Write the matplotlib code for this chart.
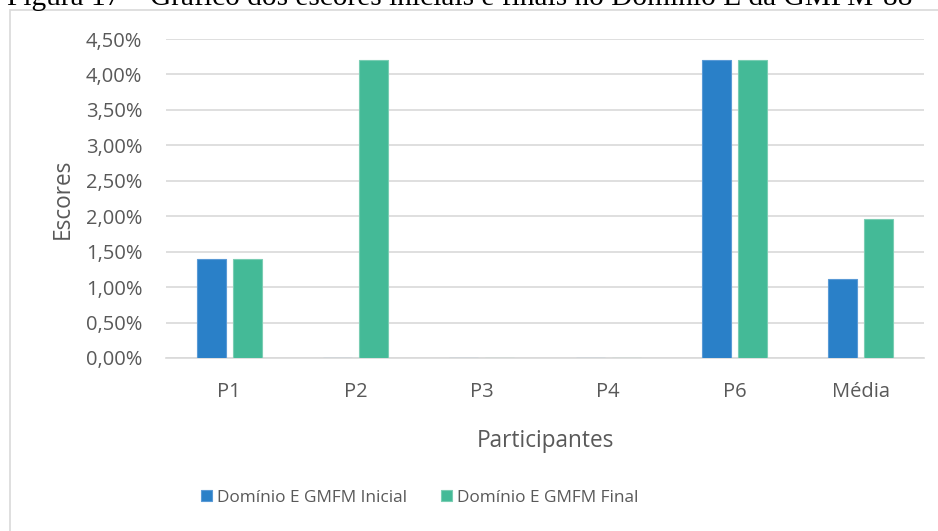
import matplotlib
matplotlib.use("Agg")
import matplotlib.pyplot as plt
from matplotlib.patches import Rectangle
from matplotlib.ticker import FuncFormatter, MultipleLocator
import numpy as np

categories = ["P1", "P2", "P3", "P4", "P6", "Média"]
inicial = [1.40, 0.0, 0.0, 0.0, 4.20, 1.12]
final = [1.40, 4.20, 0.0, 0.0, 4.20, 1.96]
series_labels = ["Domínio E GMFM Inicial", "Domínio E GMFM Final"]
title = "Figura 17 – Gráfico dos escores iniciais e finais no Domínio E da GMFM-88"

blue = "#2A80C8"
green = "#44BA97"
text_gray = "#595959"
grid_gray = "#D9D9D9"

plt.rcParams["font.family"] = ["Open Sans", "DejaVu Sans"]

fig = plt.figure(figsize=(9.38, 5.31), dpi=100)
fig.patch.set_facecolor("white")

# chart frame (extends past the right and bottom edges)
fig.patches.append(Rectangle((10 / 938, -0.05), 1.0, 1 - 10 / 531 + 0.05,
                             transform=fig.transFigure, fill=False,
                             edgecolor=grid_gray, linewidth=1.2, zorder=0))

# caption above the chart frame
fig.text(7 / 938, 1 - 5 / 531, title, family="Liberation Serif", fontsize=21.2,
         color="black", ha="left", va="baseline")

ax = fig.add_axes([166 / 938, 1 - 358 / 531, (924 - 166) / 938, (358 - 39) / 531])
x = np.arange(len(categories))
w = 0.23
off = 0.143
ax.bar(x - off, inicial, w, color=blue, edgecolor="#5A9AD6", linewidth=0.8,
       label=series_labels[0], zorder=3)
ax.bar(x + off, final, w, color=green, edgecolor="#7ACDB3", linewidth=0.8,
       label=series_labels[1], zorder=3)

ax.set_xlim(-0.5, len(categories) - 0.5)
ax.set_ylim(0, 4.5)
ax.yaxis.set_major_locator(MultipleLocator(0.5))
ax.yaxis.set_major_formatter(FuncFormatter(lambda v, p: f"{v:.2f}%".replace(".", ",")))
ax.set_xticks(x)
ax.set_xticklabels(categories)
ax.tick_params(axis="both", length=0, labelsize=14.5, colors=text_gray)
ax.tick_params(axis="y", pad=17)
ax.tick_params(axis="x", pad=17)
ax.grid(axis="y", color=grid_gray, linewidth=1.2, zorder=0)
ax.set_axisbelow(True)
for s in ["top", "right", "left"]:
    ax.spines[s].set_visible(False)
ax.spines["bottom"].set_color(grid_gray)
ax.spines["bottom"].set_linewidth(1.2)

ax.set_ylabel("Escores", fontsize=16.3, color=text_gray, labelpad=8)
ax.set_xlabel("Participantes", fontsize=16.3, color=text_gray, labelpad=20)

leg = fig.legend(loc="center", bbox_to_anchor=(419.5 / 938, 1 - 497.5 / 531), ncol=2,
                 frameon=False, fontsize=12.4, handlelength=0.64, handleheight=0.64,
                 handletextpad=0.29, columnspacing=2.0, labelcolor=text_gray)

fig.savefig("out.png", dpi=100, facecolor="white")
